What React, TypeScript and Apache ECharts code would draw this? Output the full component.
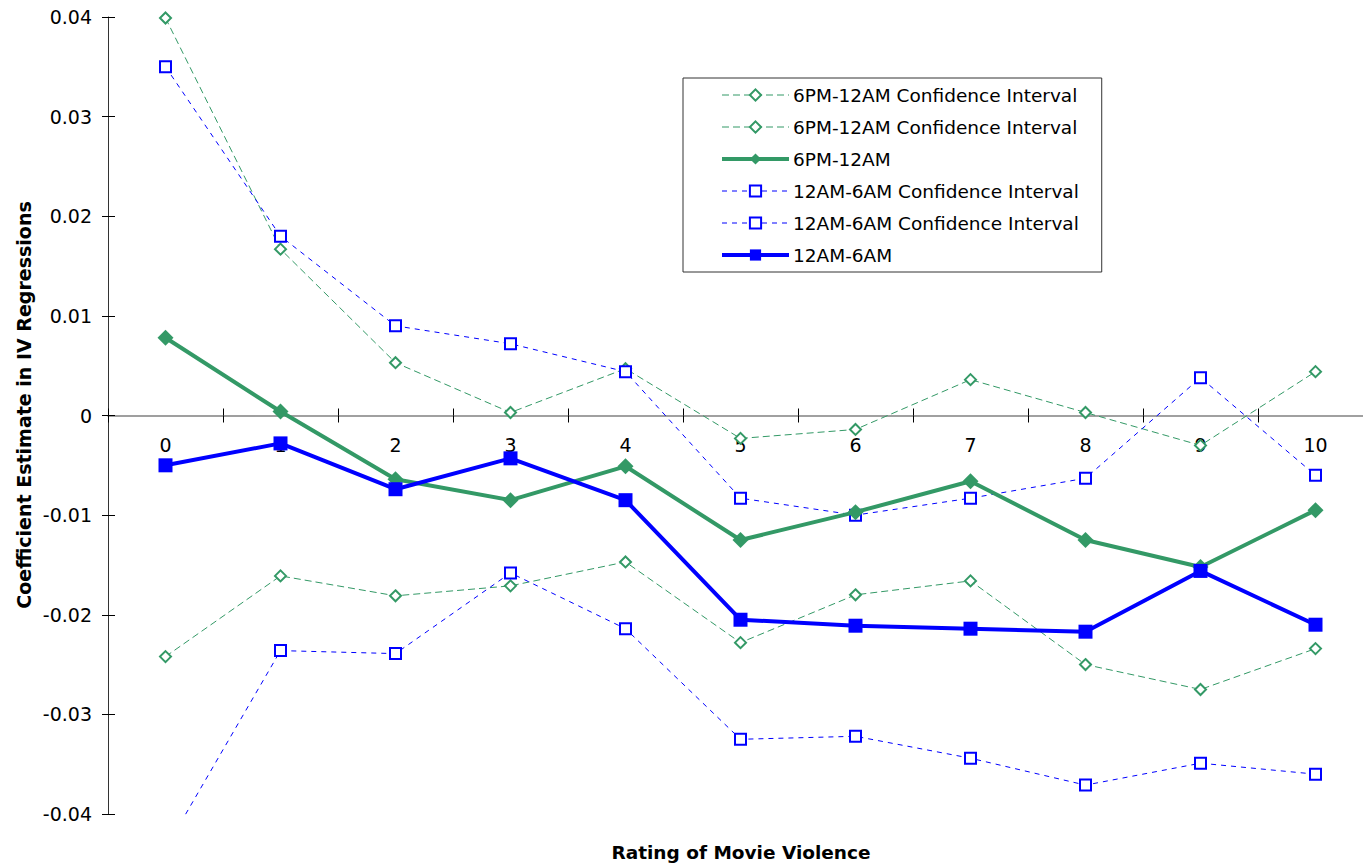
import React, { useEffect, useRef } from "react";
import * as echarts from "echarts";

const categories = ["0", "1", "2", "3", "4", "5", "6", "7", "8", "9", "10"];
const yTicks = { min: -0.04, max: 0.04, interval: 0.01 };

const greenUpperCI = [0.0399, 0.0167, 0.0053, 0.0003, 0.0047, -0.0023, -0.0014, 0.0036, 0.0003, -0.003, 0.0044];
const greenLowerCI = [-0.0242, -0.0161, -0.0181, -0.0171, -0.0147, -0.0228, -0.018, -0.0166, -0.025, -0.0275, -0.0234];
const greenMain = [0.0078, 0.0004, -0.0064, -0.0085, -0.0051, -0.0125, -0.0097, -0.0066, -0.0125, -0.0152, -0.0095];
const blueUpperCI = [0.035, 0.018, 0.009, 0.0072, 0.0044, -0.0083, -0.01, -0.0083, -0.0063, 0.0038, -0.006];
const blueLowerCI = [-0.0435, -0.0236, -0.0239, -0.0158, -0.0214, -0.0325, -0.0322, -0.0344, -0.0371, -0.0349, -0.036];
const blueMain = [-0.005, -0.0028, -0.0074, -0.0043, -0.0085, -0.0205, -0.0211, -0.0214, -0.0217, -0.0156, -0.021];

const GREEN = "#339966";
const BLUE = "#0000ff";
const FONT = "'DejaVu Sans', Verdana, sans-serif";

const nameG1 = "6PM-12AM Confidence Interval";
const nameG2 = "6PM-12AM Confidence Interval ";
const nameGM = "6PM-12AM";
const nameB1 = "12AM-6AM Confidence Interval";
const nameB2 = "12AM-6AM Confidence Interval ";
const nameBM = "12AM-6AM";

// grid geometry
const GRID_TOP = 17;
const GRID_H = 797;
const ZERO_OFFSET = -(GRID_H / 2);

function ciSeries(name: string, data: number[], color: string, symbol: string, dash: number[]) {
  return {
    name,
    type: "line",
    data,
    clip: true,
    symbol,
    symbolSize: 11,
    showAllSymbol: true,
    lineStyle: { color, width: 1, type: dash },
    itemStyle: { color, borderColor: color, borderWidth: symbol === "emptyDiamond" ? 1.5 : 2 },
    emphasis: { disabled: true },
    z: 2,
  };
}

function mainSeries(name: string, data: number[], color: string, symbol: string, size: number, z: number) {
  return {
    name,
    type: "line",
    data,
    clip: true,
    symbol,
    symbolSize: size,
    showAllSymbol: true,
    lineStyle: { color, width: 4, type: "solid" },
    itemStyle: { color, borderColor: color, borderWidth: 0 },
    emphasis: { disabled: true },
    z,
  };
}

export default function App() {
  const ref = useRef<HTMLDivElement>(null);
  useEffect(() => {
    if (!ref.current) return;
    const chart = echarts.init(ref.current, undefined, { renderer: "svg" });
    const option: any = {
      animation: false,
      backgroundColor: "#ffffff",
      textStyle: { fontFamily: FONT },
      grid: { left: 108, top: GRID_TOP, width: 1265, height: GRID_H, containLabel: false },
      xAxis: [
        {
          type: "category",
          data: categories,
          boundaryGap: true,
          position: "bottom",
          offset: ZERO_OFFSET,
          axisLine: { show: true, onZero: false, lineStyle: { color: "#808080", width: 1.5 } },
          axisTick: { show: true, interval: 0, length: 7, lineStyle: { color: "#000", width: 1 } },
          axisLabel: { show: true, interval: 0, margin: 20, fontSize: 19, color: "#000", fontFamily: FONT },
          splitLine: { show: false },
        },
        {
          type: "category",
          data: categories,
          boundaryGap: true,
          position: "top",
          offset: ZERO_OFFSET,
          axisLine: { show: false, onZero: false },
          axisTick: { show: true, interval: 0, length: 7, lineStyle: { color: "#000", width: 1 } },
          axisLabel: { show: false },
          splitLine: { show: false },
        },
      ],
      yAxis: [
        {
          type: "value",
          min: yTicks.min,
          max: yTicks.max,
          interval: yTicks.interval,
          axisLine: { show: true, lineStyle: { color: "#333", width: 1 } },
          axisTick: { show: true, length: 6, lineStyle: { color: "#000", width: 1 } },
          axisLabel: {
            margin: 16,
            fontSize: 19,
            color: "#000",
            fontFamily: FONT,
            formatter: (v: number) => (Math.abs(v) < 1e-9 ? "0" : v.toFixed(2)),
          },
          splitLine: { show: false },
        },
        {
          type: "value",
          position: "left",
          min: yTicks.min,
          max: yTicks.max,
          interval: yTicks.interval,
          axisLine: { show: false },
          axisTick: { show: true, inside: true, length: 7, lineStyle: { color: "#000", width: 1 } },
          axisLabel: { show: false },
          splitLine: { show: false },
        },
      ],
      legend: {
        orient: "vertical",
        left: 683,
        top: 78,
        padding: [7, 17, 7, 37],
        itemWidth: 67,
        itemHeight: 14,
        itemGap: 12,
        backgroundColor: "#ffffff",
        borderColor: "#333",
        borderWidth: 1,
        borderRadius: 0,
        selectedMode: false,
        textStyle: { fontSize: 18.5, color: "#000", fontFamily: FONT, lineHeight: 20, padding: [0, 0, 0, -1] },
        lineStyle: { width: "inherit" },
        data: [nameG1, nameG2, nameGM, nameB1, nameB2, nameBM],
      },
      graphic: [
        {
          type: "text",
          x: 24,
          y: 405,
          rotation: Math.PI / 2,
          style: {
            text: "Coefficient Estimate in IV Regressions",
            fontSize: 19,
            fontWeight: "bold",
            fontFamily: FONT,
            fill: "#000",
            textAlign: "center",
            textVerticalAlign: "middle",
          },
        },
        {
          type: "text",
          x: 741,
          y: 852,
          style: {
            text: "Rating of Movie Violence",
            fontSize: 18.5,
            fontWeight: "bold",
            fontFamily: FONT,
            fill: "#000",
            textAlign: "center",
            textVerticalAlign: "middle",
          },
        },
      ],
      series: [
        ciSeries(nameG1, greenUpperCI, GREEN, "emptyDiamond", [7, 4]),
        ciSeries(nameG2, greenLowerCI, GREEN, "emptyDiamond", [7, 4]),
        ciSeries(nameB1, blueUpperCI, BLUE, "emptyRect", [5, 5]),
        ciSeries(nameB2, blueLowerCI, BLUE, "emptyRect", [5, 5]),
        mainSeries(nameGM, greenMain, GREEN, "diamond", 16, 3),
        mainSeries(nameBM, blueMain, BLUE, "rect", 14, 4),
      ],
    };
    chart.setOption(option);
    return () => chart.dispose();
  }, []);
  return (
    <div
      style={{ position: "absolute", left: 0, top: 0, width: 1363, height: 864, overflow: "hidden", background: "#fff" }}
    >
      <div ref={ref} style={{ position: "absolute", left: 0, top: 0, width: 1380, height: 864 }} />
    </div>
  );
}
